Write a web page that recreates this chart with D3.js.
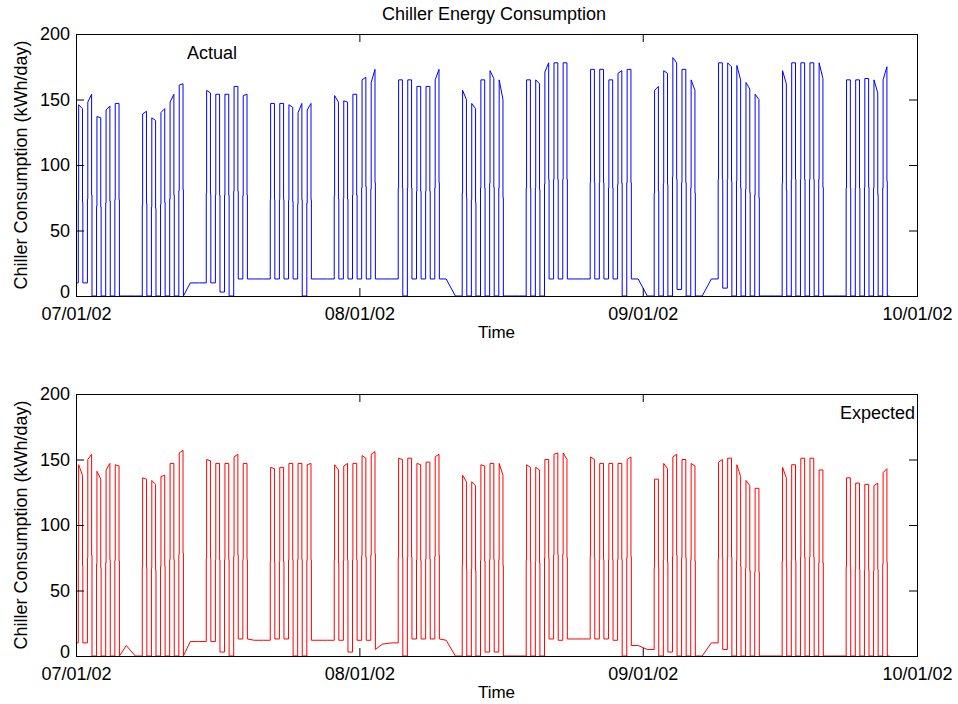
<!DOCTYPE html>
<html>
<head>
<meta charset="utf-8">
<script src="https://cdn.jsdelivr.net/npm/d3@7"></script>
<style>
  body { margin: 0; background: #fff; }
  text { font-family: Arial, "Liberation Sans", Helvetica, sans-serif; fill: #000; }
</style>
</head>
<body>
<div id="chart"></div>
<script>
// Daily readings from 07/01/02 to 09/27/02, one entry per day.
// xxxStart / xxxEnd = level at start / end of the working period (null = chiller off all day)
// xxxIdle = level after the working period (evening, night, weekend)
const actualStart = [
  146, 148, 137, 142, 147, null, null,
  139, 136, 140, 148, 161, null, null,
  157, 154, 154, 160, 153, null, null,
  147, 147, 146, 140, 142, null, null,
  153, 149, 154, 165, 163, null, null,
  165, 165, 160, 160, 165, null, null,
  157, 147, 165, 172, 165, null, null,
  165, 165, 171, 178, 178, null, null,
  173, 173, 165, 170, 173, null, null,
  157, 172, 182, 173, 165, null, null,
  178, 178, 176, 163, 154, null, null,
  172, 178, 178, 178, 178, null, null,
  165, 165, 166, 165, 165
];
const actualEnd = [
  143, 154, 136, 145, 147, null, null,
  141, 134, 143, 154, 162, null, null,
  155, 154, 154, 160, 154, null, null,
  147, 147, 144, 147, 147, null, null,
  148, 148, 154, 167, 173, null, null,
  165, 165, 160, 160, 173, null, null,
  150, 143, 165, 166, 150, null, null,
  165, 162, 178, 178, 178, null, null,
  173, 173, 165, 172, 173, null, null,
  160, 170, 178, 173, 157, null, null,
  178, 175, 165, 158, 150, null, null,
  162, 178, 178, 178, 166, null, null,
  165, 165, 166, 155, 175
];
const actualIdle = [
  10, 0, 0, 0, 0, 0, 0,
  0, 0, 0, 0, 0, 10, 10,
  10, 3, 0, 13, 13, 13, 13,
  13, 13, 13, 0, 13, 13, 13,
  13, 13, 13, 13, 13, 13, 13,
  0, 13, 13, 13, 13, 13, 0,
  0, 0, 0, 0, 0, 0, 0,
  0, 0, 13, 13, 13, 13, 13,
  13, 13, 13, 0, 13, 13, 0,
  0, 0, 5, 0, 0, 0, 13,
  6, 0, 0, 0, 0, 0, 0,
  0, 0, 0, 0, 0, 0, 0,
  0, 0, 0, 0, 0
];

const expectedStart = [
  146, 150, 141, 142, 146, null, null,
  136, 134, 137, 147, 155, null, null,
  150, 147, 147, 152, 147, null, null,
  144, 144, 147, 147, 146, null, null,
  146, 145, 147, 153, 154, null, null,
  151, 151, 147, 148, 152, null, null,
  138, 133, 146, 147, 147, null, null,
  146, 144, 150, 154, 155, null, null,
  152, 147, 147, 147, 150, null, null,
  135, 147, 152, 150, 147, null, null,
  148, 151, 146, 134, 128, null, null,
  144, 146, 151, 151, 142, null, null,
  136, 132, 131, 130, 140
];
const expectedEnd = [
  138, 154, 135, 147, 145, null, null,
  135, 131, 138, 147, 157, null, null,
  149, 147, 147, 154, 147, null, null,
  143, 144, 147, 147, 147, null, null,
  142, 147, 147, 151, 156, null, null,
  150, 151, 146, 148, 154, null, null,
  133, 130, 145, 147, 138, null, null,
  144, 142, 150, 155, 150, null, null,
  150, 147, 147, 147, 152, null, null,
  135, 143, 154, 150, 145, null, null,
  150, 151, 137, 130, 128, null, null,
  136, 146, 151, 151, 142, null, null,
  136, 132, 131, 132, 143
];
const expectedIdle = [
  10, 0, 0, 0, 0, 8, 0,
  0, 0, 0, 0, 0, 11, 11,
  11, 3, 0, 13, 13, 12, 12,
  13, 13, 0, 0, 12, 12, 12,
  12, 3, 12, 12, 5, 9, 10,
  0, 13, 13, 13, 13, 12, 0,
  0, 0, 3, 3, 0, 0, 0,
  0, 0, 13, 12, 13, 13, 13,
  13, 13, 12, 0, 8, 8, 5,
  0, 3, 0, 0, 0, 0, 10,
  5, 0, 0, 0, 0, 0, 0,
  0, 0, 0, 0, 0, 0, 0,
  0, 0, 0, 0, 0
];

// Operating schedule (fraction of a day): half load, full load, back to half, off
const rampOn = 6 / 24, fullOn = 7 / 24, rampOff = 17 / 24, fullOff = 18 / 24;

const dateTicks = ["07/01/02", "08/01/02", "09/01/02", "10/01/02"];
const valueTicks = [0, 50, 100, 150, 200];

const parseDay = d3.timeParse("%m/%d/%y");
const startDate = parseDay(dateTicks[0]);
const endDate = parseDay(dateTicks[dateTicks.length - 1]);
const dayMs = 864e5;

// Layout
const svgW = 958, svgH = 704;
const left = 76, plotW = 917 - 76, plotH = 262;
const panelTops = [34, 394];
const tickLen = 8;

const svg = d3.select("#chart")
    .append("svg")
    .attr("width", svgW)
    .attr("height", svgH)
    .style("background", "#fff");

const x = d3.scaleTime()
    .domain([startDate, endDate])
    .range([0, plotW]);

const y = d3.scaleLinear()
    .domain([0, 200])
    .range([plotH, 0]);

function buildSeries(start, end, idle) {
    const pts = [[0, idle[0]]];
    start.forEach((s, i) => {
        const before = i === 0 ? idle[0] : idle[i - 1];
        if (s === null) {
            pts.push([i + 0.5, idle[i]]);
            return;
        }
        const e = end[i];
        pts.push([i + rampOn, before], [i + rampOn, s / 2], [i + fullOn, s / 2], [i + fullOn, s],
                 [i + rampOff, e], [i + rampOff, e / 2], [i + fullOff, e / 2], [i + fullOff, idle[i]]);
    });
    pts.push([start.length, 0]);
    return pts.map(([t, v]) => ({date: new Date(startDate.getTime() + t * dayMs), value: v}));
}

function drawPanel(top, series, color, label, labelX, labelAnchor) {
    const g = svg.append("g")
        .attr("transform", `translate(${left},${top})`);

    // Data line
    const line = d3.line()
        .x(d => x(d.date))
        .y(d => y(d.value));

    g.append("path")
        .datum(series)
        .attr("fill", "none")
        .attr("stroke", color)
        .attr("stroke-width", 1)
        .attr("d", line);

    const xTickVals = dateTicks.map(parseDay);

    // Bottom axis with labels, ticks pointing in
    const xAxis = g.append("g")
        .attr("transform", `translate(0,${plotH})`)
        .call(d3.axisBottom(x)
            .tickValues(xTickVals)
            .tickFormat(d3.timeFormat("%m/%d/%y"))
            .tickSizeInner(-tickLen)
            .tickSizeOuter(0)
            .tickPadding(11));

    // Top axis, ticks only
    const xAxisTop = g.append("g")
        .call(d3.axisTop(x)
            .tickValues(xTickVals)
            .tickFormat("")
            .tickSizeInner(-tickLen)
            .tickSizeOuter(0));

    // Left axis with labels
    const yAxis = g.append("g")
        .call(d3.axisLeft(y)
            .tickValues(valueTicks)
            .tickSizeInner(-tickLen)
            .tickSizeOuter(0)
            .tickPadding(6));

    // Right axis, ticks only
    const yAxisRight = g.append("g")
        .attr("transform", `translate(${plotW},0)`)
        .call(d3.axisRight(y)
            .tickValues(valueTicks)
            .tickFormat("")
            .tickSizeInner(-tickLen)
            .tickSizeOuter(0));

    [xAxis, xAxisTop, yAxis, yAxisRight].forEach(a => {
        a.select(".domain").remove();
        a.selectAll("line").attr("stroke", "#000");
        a.selectAll("text")
            .attr("fill", "#000")
            .style("font-size", "18px")
            .style("font-family", "Arial, 'Liberation Sans', sans-serif");
    });

    // nudge the zero label up a little so it sits above the date labels
    yAxis.selectAll(".tick text")
        .filter(d => d === 0)
        .attr("dy", "0.1em");

    // Frame
    g.append("rect")
        .attr("x", 0.5)
        .attr("y", 0.5)
        .attr("width", plotW)
        .attr("height", plotH)
        .attr("fill", "none")
        .attr("stroke", "#000")
        .attr("stroke-width", 1);

    // Series label inside the frame
    g.append("text")
        .attr("x", labelX)
        .attr("y", 25)
        .attr("text-anchor", labelAnchor)
        .style("font-size", "18px")
        .text(label);

    // Axis titles
    g.append("text")
        .attr("x", plotW / 2)
        .attr("y", plotH + 42)
        .attr("text-anchor", "middle")
        .style("font-size", "17px")
        .text("Time");

    g.append("text")
        .attr("transform", `translate(${27 - left},${plotH / 2}) rotate(-90)`)
        .attr("text-anchor", "middle")
        .style("font-size", "18px")
        .text("Chiller Consumption (kWh/day)");
}

drawPanel(panelTops[0], buildSeries(actualStart, actualEnd, actualIdle), "#0000ff", "Actual", 111, "start");
drawPanel(panelTops[1], buildSeries(expectedStart, expectedEnd, expectedIdle), "#ff0000", "Expected", 839, "end");

// Figure title
svg.append("text")
    .attr("x", 494)
    .attr("y", 20)
    .attr("text-anchor", "middle")
    .style("font-size", "18px")
    .text("Chiller Energy Consumption");
</script>
</body>
</html>
